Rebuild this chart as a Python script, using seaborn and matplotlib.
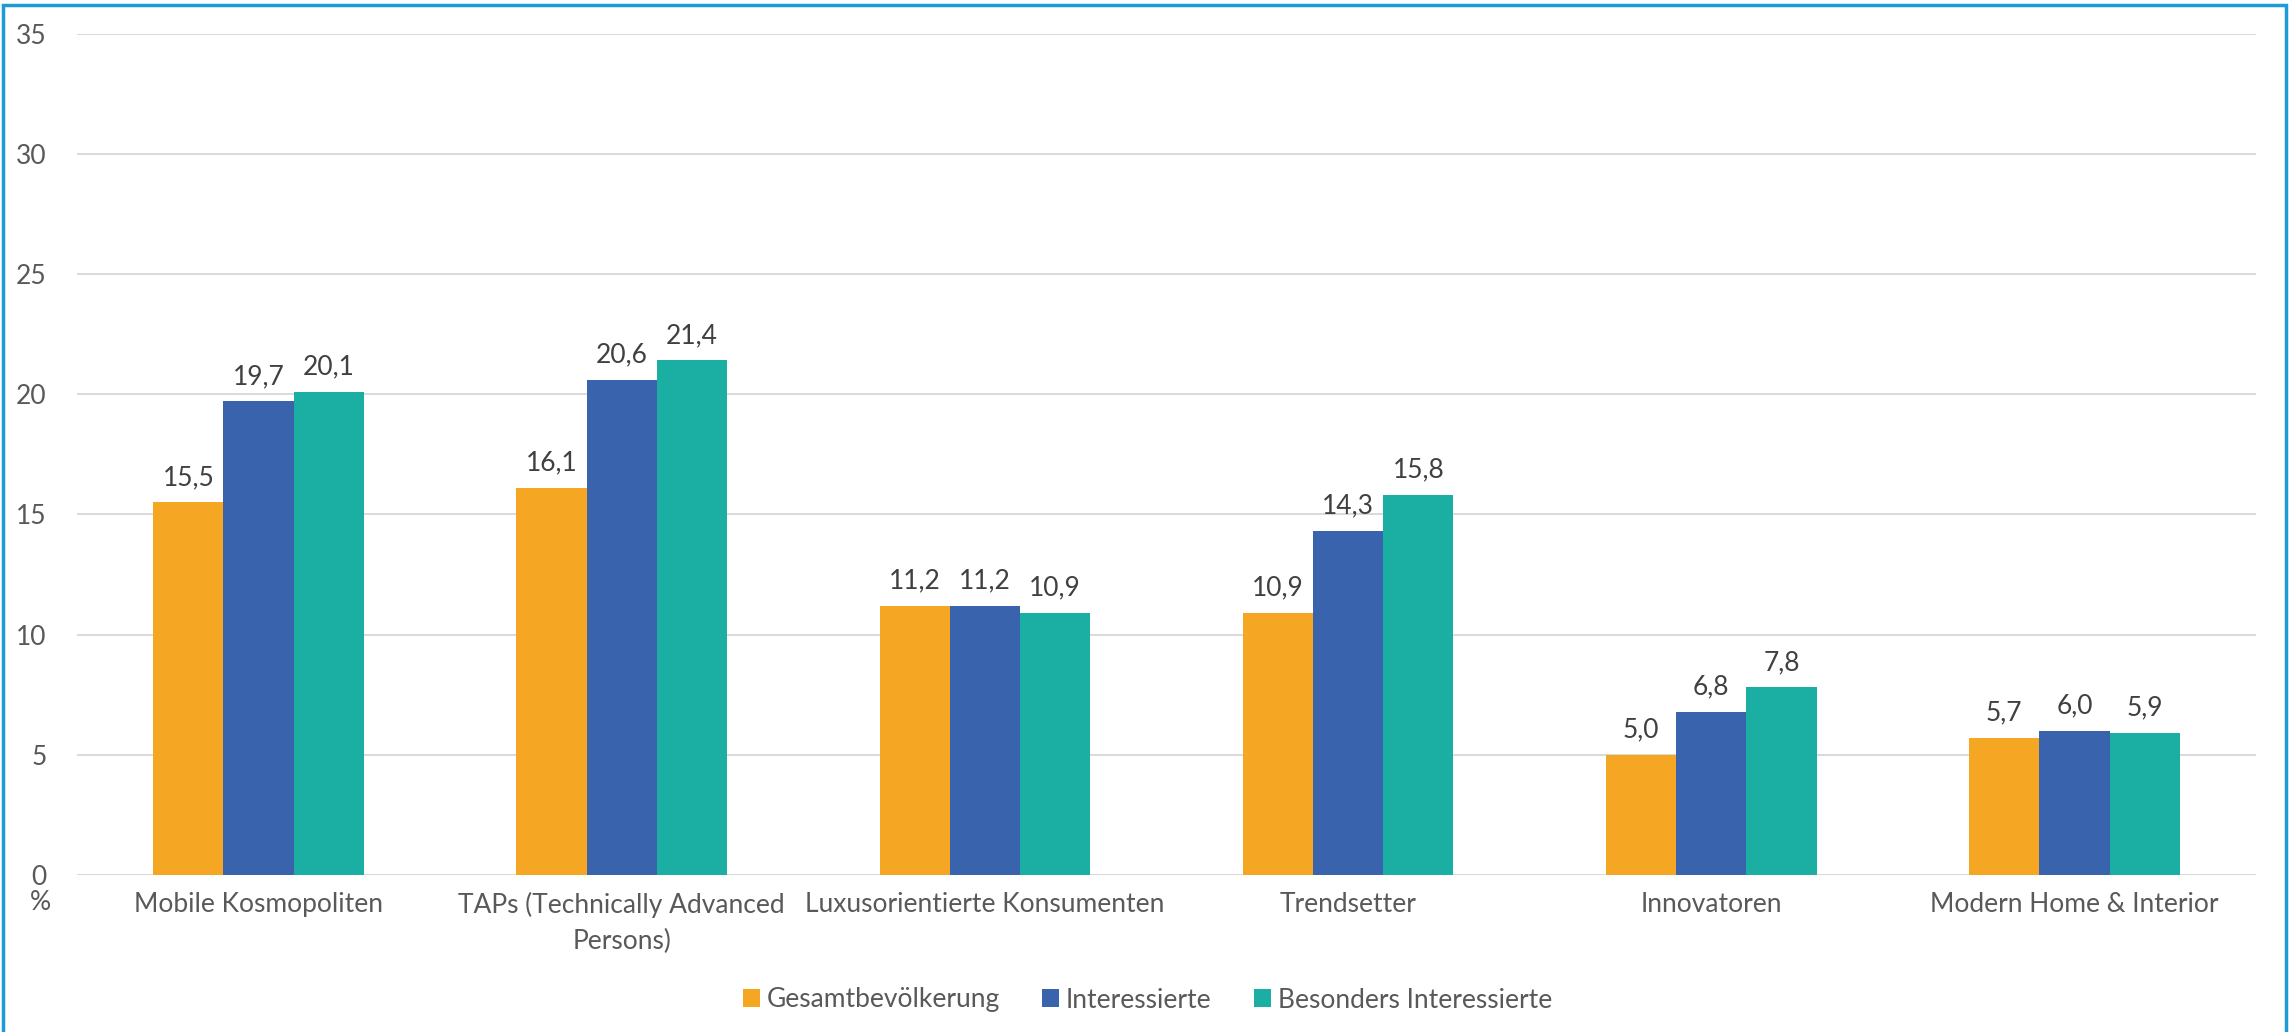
import matplotlib
matplotlib.use("Agg")
import matplotlib.pyplot as plt
import seaborn as sns
import pandas as pd
from matplotlib.patches import Rectangle

categories = ["Mobile Kosmopoliten", "TAPs (Technically Advanced\nPersons)",
              "Luxusorientierte Konsumenten", "Trendsetter", "Innovatoren",
              "Modern Home & Interior"]
series_names = ["Gesamtbevölkerung", "Interessierte", "Besonders Interessierte"]
gesamt = [15.5, 16.1, 11.2, 10.9, 5.0, 5.7]
interessierte = [19.7, 20.6, 11.2, 14.3, 6.8, 6.0]
besonders = [20.1, 21.4, 10.9, 15.8, 7.8, 5.9]
yticks = [0, 5, 10, 15, 20, 25, 30, 35]
colors = ["#F5A724", "#3964AD", "#1BAEA2"]

rows = []
for s, vals in zip(series_names, [gesamt, interessierte, besonders]):
    for c, v in zip(categories, vals):
        rows.append({"Kategorie": c, "Serie": s, "Wert": v})
df = pd.DataFrame(rows)

sns.set_theme(style="white")
plt.rcParams['font.family'] = ['Lato', 'DejaVu Sans']
text_color = "#595959"

fig = plt.figure(figsize=(22.95, 10.32), dpi=100)
ax = fig.add_axes([77/2295, 1-875/1032, (2256-77)/2295, (875-33.5)/1032])

sns.barplot(data=df, x="Kategorie", y="Wert", hue="Serie", palette=colors,
            width=0.58, saturation=1, ax=ax, order=categories,
            hue_order=series_names, errorbar=None, legend=True,
            linewidth=0, edgecolor="none")

ax.set_ylim(0, 35)
ax.set_yticks(yticks)
ax.set_yticklabels([str(t) for t in yticks], fontsize=19, color=text_color)
ax.set_xlim(-0.5, len(categories) - 0.5)
ax.tick_params(axis='x', labelsize=19, colors=text_color, length=0, pad=12)
ax.tick_params(axis='y', length=0, pad=22)
for lbl in ax.get_xticklabels():
    lbl.set_color(text_color)
    lbl.set_linespacing(1.55)
ax.set_xlabel("")
ax.set_ylabel("")
ax.yaxis.grid(True, color="#D9D9D9", linewidth=1.4)
ax.set_axisbelow(True)
for sp in ax.spines.values():
    sp.set_visible(False)

for cont in ax.containers:
    labels = [f"{b.get_height():.1f}".replace(".", ",") for b in cont]
    ax.bar_label(cont, labels=labels, padding=9, fontsize=19, color="#404040")

# zero line (gridline at 0 in reference)
ax.axhline(0, color="#D9D9D9", linewidth=1.8, zorder=0.5)

# unit label below 0
fig.text(40/2295, 1-903/1032, "%", fontsize=19, color=text_color,
         ha="center", va="center")

leg = ax.legend(loc="center", bbox_to_anchor=(0.5, 1-1000/1032),
                bbox_transform=fig.transFigure, ncol=3, frameon=False,
                fontsize=19, handlelength=0.65, handleheight=0.65,
                handletextpad=0.25, columnspacing=1.6)
for t in leg.get_texts():
    t.set_color(text_color)

fig.patches.append(Rectangle((3/2295, -0.05), (2286-3)/2295, 1.05 - 5/1032,
                             transform=fig.transFigure, fill=False,
                             edgecolor="#1E9BD7", linewidth=2.5, clip_on=False))

fig.savefig("out.png", dpi=100, facecolor="white")
